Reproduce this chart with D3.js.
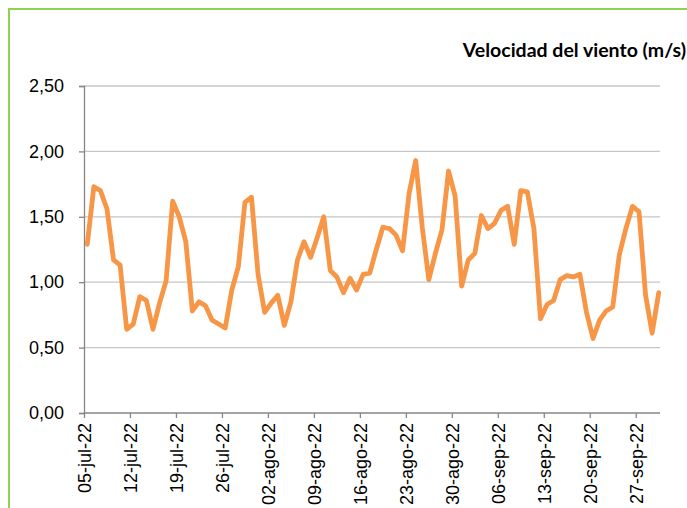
<!DOCTYPE html>
<html lang="es">
<head>
<meta charset="UTF-8">
<title>Velocidad del viento</title>
<style>
  html, body { margin: 0; padding: 0; background: #fff; }
  svg { display: block; font-family: Lato, "Open Sans", sans-serif; }
</style>
</head>
<body>
<script src="https://d3js.org/d3.v7.min.js"></script>
<script>
// datos diarios 05-jul-22 .. 30-sep-22
const startDate = "2022-07-05";
const windSpeed = [
  1.29, 1.73, 1.70, 1.56, 1.17, 1.13, 0.64, 0.68, 0.89, 0.86,
  0.64, 0.84, 1.01, 1.62, 1.50, 1.31, 0.78, 0.85, 0.82, 0.71,
  0.68, 0.65, 0.94, 1.12, 1.61, 1.65, 1.06, 0.77, 0.84, 0.90,
  0.67, 0.85, 1.17, 1.31, 1.19, 1.34, 1.50, 1.09, 1.04, 0.92,
  1.03, 0.94, 1.06, 1.07, 1.25, 1.42, 1.41, 1.36, 1.24, 1.68,
  1.93, 1.42, 1.02, 1.22, 1.40, 1.85, 1.66, 0.97, 1.17, 1.22,
  1.51, 1.41, 1.45, 1.55, 1.58, 1.29, 1.70, 1.69, 1.41, 0.72,
  0.83, 0.86, 1.02, 1.05, 1.04, 1.06, 0.77, 0.57, 0.71, 0.78,
  0.81, 1.21, 1.41, 1.58, 1.54, 0.90, 0.61, 0.92
];
const yTicks = [0, 0.5, 1, 1.5, 2, 2.5];
const xTickLabels = ["05-jul-22", "12-jul-22", "19-jul-22", "26-jul-22", "02-ago-22", "09-ago-22",
  "16-ago-22", "23-ago-22", "30-ago-22", "06-sep-22", "13-sep-22", "20-sep-22", "27-sep-22"];
const title = "Velocidad del viento (m/s)";

const w = 687, h = 508;
const mLeft = 84, mRight = 662, mTop = 86, mBottom = 413;

const parse = d3.utcParse("%Y-%m-%d");
const day = 864e5;
const t0 = parse(startDate);
const data = windSpeed.map((v, i) => ({ date: new Date(+t0 + i * day), v }));
const tEnd = new Date(+t0 + windSpeed.length * day);

const x = d3.scaleUtc().domain([t0, tEnd]).range([mLeft, mRight]);
const y = d3.scaleLinear().domain([0, 2.5]).range([mBottom, mTop]);

const svg = d3.select("body").append("svg").attr("width", w).attr("height", h);

// marco verde
svg.append("rect")
  .attr("x", 9).attr("y", 9).attr("width", w + 20).attr("height", h + 20)
  .attr("fill", "none").attr("stroke", "#92d050").attr("stroke-width", 2);

svg.append("text")
  .attr("x", 686).attr("y", 57)
  .attr("text-anchor", "end")
  .attr("font-size", 19.5).attr("font-weight", "bold")
  .attr("fill", "#000")
  .text(title);

// rejilla
svg.append("g").selectAll("line")
  .data(yTicks.filter(d => d > 0))
  .join("line")
  .attr("x1", mLeft).attr("x2", mRight - 2)
  .attr("y1", d => y(d)).attr("y2", d => y(d))
  .attr("stroke", "#c6c6c6").attr("stroke-width", 1.3);

const fmt = d => d3.format(".2f")(d).replace(".", ",");

const yAxis = svg.append("g")
  .attr("transform", `translate(${mLeft},0)`)
  .call(d3.axisLeft(y).tickValues(yTicks).tickFormat(fmt).tickSize(5).tickPadding(15));
yAxis.selectAll("path, line").attr("stroke", "#868686").attr("stroke-width", 1.3);
yAxis.selectAll("text").attr("font-size", 18).attr("fill", "#000").attr("font-family", null);

const tickDates = xTickLabels.map((_, i) => new Date(+t0 + i * 7 * day));
const xAxis = svg.append("g")
  .attr("transform", `translate(0,${mBottom})`)
  .call(d3.axisBottom(x).tickValues(tickDates).tickFormat((d, i) => xTickLabels[i]).tickSize(5).tickSizeOuter(0));
xAxis.select("path").attr("d", `M${mLeft},0H${mRight - 2}`);
xAxis.selectAll("path, line").attr("stroke", "#868686").attr("stroke-width", 1.3);
xAxis.selectAll("text")
  .attr("font-size", 18).attr("fill", "#000").attr("font-family", null)
  .attr("transform", "rotate(-90)")
  .attr("text-anchor", "end")
  .attr("x", -10).attr("y", 0).attr("dy", "0.35em");

const line = d3.line()
  .x(d => x(new Date(+d.date + day / 2)))
  .y(d => y(d.v));

svg.append("path")
  .datum(data)
  .attr("d", line)
  .attr("fill", "none")
  .attr("stroke", "#f79646")
  .attr("stroke-width", 4.8)
  .attr("stroke-linejoin", "round")
  .attr("stroke-linecap", "round");
</script>
</body>
</html>
